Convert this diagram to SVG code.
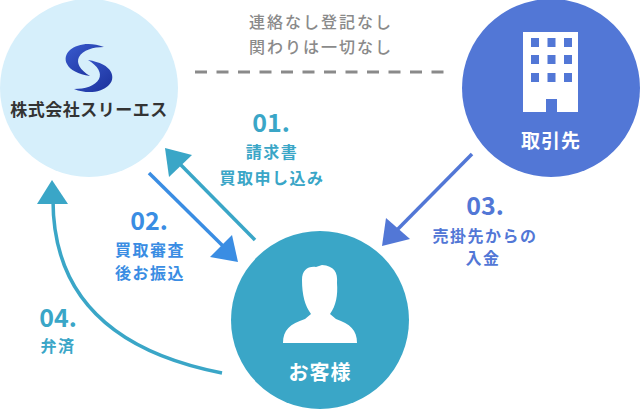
<svg xmlns="http://www.w3.org/2000/svg" width="640" height="409" viewBox="0 0 640 409">
<style>
text{font-family:"Noto Sans CJK JP","Noto Sans",sans-serif;font-weight:700;text-anchor:middle}
.lbl{font-size:16px;letter-spacing:1.5px}
.num{font-size:25px}
.teal{fill:#3aa6c7}
.blue{fill:#3a8de3}
.navy{fill:#5277d6}
.note{font-size:16px;font-weight:500;fill:#8a8a8a;letter-spacing:2px}
.conn{fill:none;stroke-width:3.5}
</style>
<defs>
<linearGradient id="lg" x1="0" y1="0" x2="1" y2="1">
<stop offset="0" stop-color="#3a5ccf"/>
<stop offset="1" stop-color="#1a2f9a"/>
</linearGradient>
</defs>
<rect width="640" height="409" fill="#ffffff"/>
<g id="note">
<line x1="195" y1="72" x2="444" y2="72" stroke="#8a8a8a" stroke-width="3" stroke-dasharray="12 9.5"/>
<text class="note" x="321" y="28">連絡なし登記なし</text>
<text class="note" x="321" y="53">関わりは一切なし</text>
</g>
<g id="node-company">
<circle cx="89" cy="88" r="89" fill="#d6effb"/>
<path d="M104 47 C82 38 60 50 67 64 C70 70 78 74 90 76 C80 70 76 63 79 57 C83 50 93 47 104 47 Z" fill="url(#lg)"/>
<path d="M74 89 C96 98 118 86 111 72 C108 66 100 62 88 60 C98 66 102 73 99 79 C95 86 85 89 74 89 Z" fill="url(#lg)"/>
<text x="89" y="116" font-size="17" fill="#333333" letter-spacing="0.5">株式会社スリーエス</text>
</g>
<g id="node-partner">
<circle cx="551" cy="88" r="89" fill="#5277d6"/>
<path d="M523 32 H578 V112 H557 V99 H546 V112 H523 Z" fill="#ffffff"/>
<g fill="#5277d6">
<rect x="531" y="38" width="8" height="9"/><rect x="547.5" y="38" width="8" height="9"/><rect x="564" y="38" width="8" height="9"/>
<rect x="531" y="55" width="8" height="9"/><rect x="547.5" y="55" width="8" height="9"/><rect x="564" y="55" width="8" height="9"/>
<rect x="531" y="73" width="8" height="9"/><rect x="547.5" y="73" width="8" height="9"/><rect x="564" y="73" width="8" height="9"/>
</g>
<text x="551" y="148" font-size="19" fill="#ffffff" letter-spacing="1">取引先</text>
</g>
<g id="node-customer">
<circle cx="320" cy="320" r="89" fill="#3aa6c7"/>
<path d="M283 343 L357 343 C357 330 350 324 336 319 L330 314 C336 306 338 295 337 283 C338 272 334 266 322 265 L316 267 C308 266 302 270 302 280 C302 295 305 306 311 314 L305 319 C290 324 283 330 283 343 Z" fill="#ffffff"/>
<text x="320" y="380" font-size="20" fill="#ffffff" letter-spacing="1">お客様</text>
</g>
<g id="connectors">
<line class="conn" x1="255" y1="240" x2="178" y2="162" stroke="#3aa6c7"/>
<polygon points="165,148 192,155 169,177" fill="#3aa6c7"/>
<line class="conn" x1="149" y1="173" x2="226" y2="249" stroke="#3a8de3"/>
<polygon points="238,262 210,257 232,235" fill="#3a8de3"/>
<line class="conn" x1="472" y1="154" x2="395" y2="232" stroke="#5277d6"/>
<polygon points="382,246 386,218 410,239" fill="#5277d6"/>
<path class="conn" d="M222 373 Q53 340 53 200" stroke="#3aa6c7"/>
<polygon points="52,180 68,204 37,204" fill="#3aa6c7"/>
</g>
<g id="labels">
<text class="num teal" x="271" y="132">01.</text>
<text class="lbl teal" x="272" y="158">請求書</text>
<text class="lbl teal" x="272" y="184">買取申し込み</text>
<text class="num blue" x="149" y="230">02.</text>
<text class="lbl blue" x="150" y="256">買取審査</text>
<text class="lbl blue" x="150" y="279">後お振込</text>
<text class="num navy" x="485" y="215">03.</text>
<text class="lbl navy" x="485" y="242">売掛先からの</text>
<text class="lbl navy" x="483" y="264">入金</text>
<text class="num teal" x="58" y="327">04.</text>
<text class="lbl teal" x="58" y="352">弁済</text>
</g>
</svg>
